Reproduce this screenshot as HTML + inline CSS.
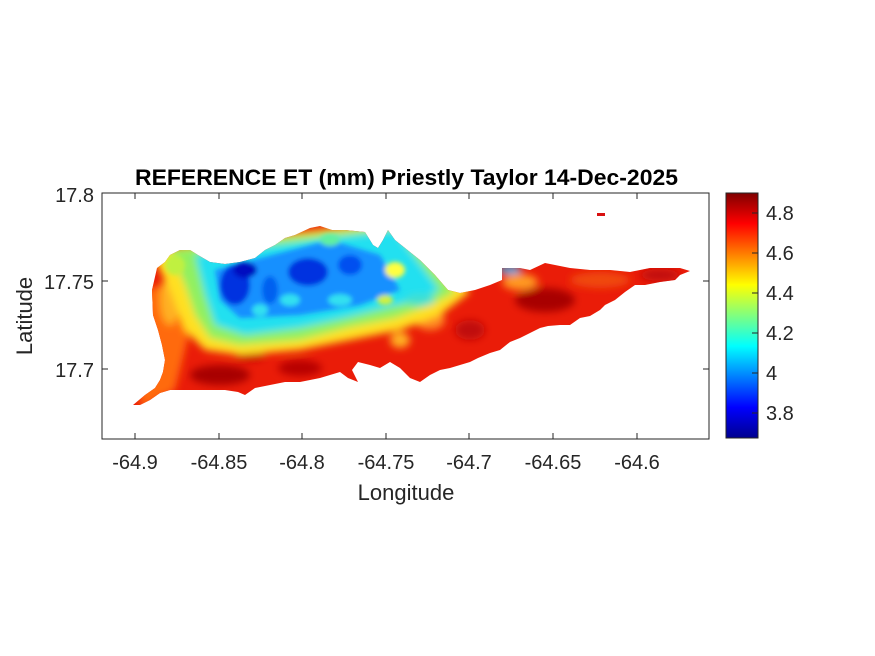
<!DOCTYPE html>
<html><head><meta charset="utf-8"><style>
html,body{margin:0;padding:0;background:#fff;}
svg{display:block;font-family:"Liberation Sans",Arial,sans-serif;}
</style></head><body>
<svg width="875" height="656" viewBox="0 0 875 656" xmlns="http://www.w3.org/2000/svg">
<defs>
<clipPath id="isl"><path d="M133,405 L145,395 155,388 160,380 163,372 165,360 162,345 158,330 153,315 152,290 157,268 165,262 170,255 180,250 190,250 198,255 210,262 225,264 240,262 255,258 265,250 275,245 285,238 295,235 310,228 320,226 332,230 345,230 365,232 373,245 378,248 383,240 388,230 395,240 405,248 420,260 435,275 448,290 460,293 475,290 490,285 502,280 502,268 520,268 530,270 545,263 555,265 570,268 590,270 610,270 630,272 650,268 665,268 680,268 690,271 680,275 675,280 660,282 645,285 635,285 625,292 615,300 605,305 600,310 590,316 580,318 570,325 560,325 548,326 540,328 530,333 520,338 510,342 500,350 490,353 478,358 470,362 460,365 450,368 440,370 430,375 420,382 410,378 400,368 390,362 380,368 370,365 358,362 352,370 358,382 348,378 340,372 330,375 320,378 300,382 285,382 270,385 255,388 245,395 238,392 225,390 200,390 185,390 170,390 160,393 150,400 140,405 Z"/></clipPath>
<filter id="bl" x="-20%" y="-20%" width="140%" height="140%"><feGaussianBlur stdDeviation="4"/></filter>
<filter id="bl2" x="-20%" y="-20%" width="140%" height="140%"><feGaussianBlur stdDeviation="2.5"/></filter>
<linearGradient id="jet" x1="0" y1="1" x2="0" y2="0">
<stop offset="0" stop-color="#00008f"/><stop offset="0.125" stop-color="#0000ff"/>
<stop offset="0.375" stop-color="#00ffff"/><stop offset="0.625" stop-color="#ffff00"/>
<stop offset="0.875" stop-color="#ff0000"/><stop offset="1" stop-color="#800000"/>
</linearGradient>
</defs>
<rect x="102" y="193" width="607" height="246" fill="#fff" stroke="#262626" stroke-width="1"/>
<g clip-path="url(#isl)">
<rect x="120" y="220" width="580" height="190" fill="#ea1c08"/>
<g filter="url(#bl)">
<path d="M140,290 L185,280 190,330 175,390 140,410 Z" fill="#ff6a10"/>
<ellipse cx="220" cy="375" rx="30" ry="10" fill="#a80000"/>
<ellipse cx="300" cy="368" rx="22" ry="8" fill="#b80404"/>
<ellipse cx="250" cy="355" rx="15" ry="6" fill="#c00404"/>
<ellipse cx="545" cy="300" rx="30" ry="12" fill="#a80000"/>
<ellipse cx="470" cy="330" rx="15" ry="10" fill="#c00808"/>
<ellipse cx="660" cy="275" rx="20" ry="6" fill="#c00808"/>
<ellipse cx="600" cy="280" rx="30" ry="8" fill="#f04a10"/>
<ellipse cx="520" cy="282" rx="18" ry="8" fill="#ff9a20"/>
<ellipse cx="430" cy="320" rx="15" ry="10" fill="#ff8a20"/>
<ellipse cx="400" cy="340" rx="10" ry="8" fill="#ffb020"/>
<ellipse cx="170" cy="300" rx="10" ry="25" fill="#ffb020"/>
<path d="M150,250 L400,220 470,292 440,315 400,330 360,338 300,350 240,355 205,350 185,330 170,290 Z" fill="#ffe020"/>
<path d="M170,250 L400,225 455,292 430,305 395,318 350,327 300,340 240,345 210,338 195,315 185,285 Z" fill="#90f060"/>
<path d="M195,255 L395,230 440,290 420,300 385,308 345,318 300,328 245,335 215,325 205,295 Z" fill="#20e0f0"/>
<ellipse cx="510" cy="270" rx="12" ry="4" fill="#20b0f0"/>
<ellipse cx="420" cy="300" rx="15" ry="6" fill="#40e0d0"/>
</g>
<g filter="url(#bl2)">
<path d="M215,270 L330,240 380,255 400,290 360,305 300,315 240,318 220,300 Z" fill="#1890ff"/>
<ellipse cx="235" cy="285" rx="15" ry="20" fill="#0030e0"/>
<ellipse cx="245" cy="270" rx="12" ry="8" fill="#0010c0"/>
<ellipse cx="308" cy="272" rx="20" ry="14" fill="#0030e0"/>
<ellipse cx="270" cy="290" rx="8" ry="14" fill="#0060f0"/>
<ellipse cx="350" cy="265" rx="12" ry="10" fill="#0050f0"/>
<ellipse cx="290" cy="300" rx="10" ry="6" fill="#30e0f0"/>
<ellipse cx="340" cy="300" rx="12" ry="6" fill="#30e0f0"/>
<ellipse cx="260" cy="310" rx="8" ry="6" fill="#30e0f0"/>
<ellipse cx="330" cy="240" rx="10" ry="6" fill="#60f0a0"/>
<ellipse cx="395" cy="270" rx="10" ry="8" fill="#ffff40"/>
<ellipse cx="385" cy="300" rx="8" ry="5" fill="#d0f040"/>
<ellipse cx="175" cy="265" rx="10" ry="10" fill="#c0f040"/>
</g>
</g>
<rect x="597" y="213" width="8" height="3" fill="#d81010"/>
<g stroke="#262626" stroke-width="1">
<line x1="135" y1="439" x2="135" y2="433"/><line x1="219" y1="439" x2="219" y2="433"/>
<line x1="302" y1="439" x2="302" y2="433"/><line x1="386" y1="439" x2="386" y2="433"/>
<line x1="469" y1="439" x2="469" y2="433"/><line x1="553" y1="439" x2="553" y2="433"/>
<line x1="637" y1="439" x2="637" y2="433"/>
<line x1="135" y1="193" x2="135" y2="199"/><line x1="219" y1="193" x2="219" y2="199"/>
<line x1="302" y1="193" x2="302" y2="199"/><line x1="386" y1="193" x2="386" y2="199"/>
<line x1="469" y1="193" x2="469" y2="199"/><line x1="553" y1="193" x2="553" y2="199"/>
<line x1="637" y1="193" x2="637" y2="199"/>
<line x1="102" y1="281" x2="108" y2="281"/><line x1="102" y1="369" x2="108" y2="369"/>
<line x1="709" y1="281" x2="703" y2="281"/><line x1="709" y1="369" x2="703" y2="369"/>
</g>
<g fill="#262626" font-size="20" text-anchor="middle">
<text x="135" y="469">-64.9</text><text x="219" y="469">-64.85</text>
<text x="302" y="469">-64.8</text><text x="386" y="469">-64.75</text>
<text x="469" y="469">-64.7</text><text x="553" y="469">-64.65</text>
<text x="637" y="469">-64.6</text>
</g>
<g fill="#262626" font-size="20" text-anchor="end">
<text x="94" y="202">17.8</text><text x="94" y="289">17.75</text><text x="94" y="377">17.7</text>
</g>
<text x="406" y="500" font-size="22" fill="#262626" text-anchor="middle">Longitude</text>
<text transform="translate(32,316) rotate(-90)" font-size="22" fill="#262626" text-anchor="middle">Latitude</text>
<text x="135" y="185" font-size="22" font-weight="bold" fill="#000" textLength="543" lengthAdjust="spacingAndGlyphs">REFERENCE ET (mm) Priestly Taylor 14-Dec-2025</text>
<rect x="726" y="193" width="32" height="245" fill="url(#jet)" stroke="#262626" stroke-width="1"/>
<g stroke="#262626" stroke-width="1">
<line x1="752" y1="213" x2="758" y2="213"/><line x1="752" y1="253" x2="758" y2="253"/>
<line x1="752" y1="293" x2="758" y2="293"/><line x1="752" y1="333" x2="758" y2="333"/>
<line x1="752" y1="373" x2="758" y2="373"/><line x1="752" y1="413" x2="758" y2="413"/>
</g>
<g fill="#262626" font-size="20">
<text x="766" y="220">4.8</text><text x="766" y="260">4.6</text><text x="766" y="300">4.4</text>
<text x="766" y="340">4.2</text><text x="766" y="380">4</text><text x="766" y="420">3.8</text>
</g>
</svg>
</body></html>
